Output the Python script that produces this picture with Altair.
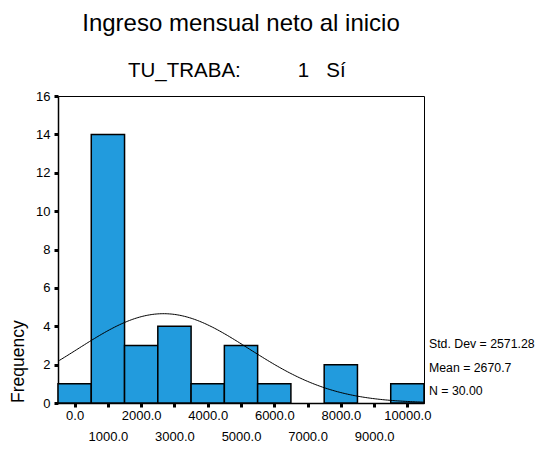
import altair as alt
import pandas as pd

# ---- data ----
bin_centers = [0, 1000, 2000, 3000, 4000, 5000, 6000, 7000, 8000, 9000, 10000]
counts = [1, 14, 3, 4, 1, 3, 1, 0, 2, 0, 1]
bin_width = 1000
mean_value = 2670.7
std_dev = 2571.28
n_total = 30
y_ticks = [0, 2, 4, 6, 8, 10, 12, 14, 16]
stats_labels = ["Std. Dev = 2571.28", "Mean = 2670.7", "N = 30.00"]
title_text = "Ingreso mensual neto al inicio"
NB = "\u00a0"
subtitle_text = "TU_TRABA:" + NB * 10 + "1" + NB * 3 + "Sí"
y_title = "Frequency"

FONT = "Liberation Sans"
BAR_COLOR = "#229BDD"

bars_df = pd.DataFrame({"center": bin_centers, "count": counts})
bars_df["start"] = bars_df["center"] - bin_width / 2
bars_df["end"] = bars_df["center"] + bin_width / 2

x_scale = alt.Scale(domain=[bin_centers[0] - bin_width / 2, bin_centers[-1] + bin_width / 2],
                    nice=False, zero=False)
y_scale = alt.Scale(domain=[0, 16], nice=False)

x_axis = alt.Axis(
    values=bin_centers,
    labelExpr="(datum.value % 2000 == 0) ? format(datum.value, '.1f') : ['', format(datum.value, '.1f')]",
    labelFont=FONT, labelFontSize=13, labelColor="black",
    labelLineHeight=20.5, labelPadding=2.5, labelOverlap=False, labelFlush=False,
    tickSize=4, tickWidth=3, tickColor="black",
    domainColor="black", domainWidth=1.5, grid=False, title=None,
)
y_axis = alt.Axis(
    values=y_ticks, labelFont=FONT, labelFontSize=13, labelColor="black",
    labelPadding=4, tickSize=4, tickWidth=3, tickColor="black",
    domainColor="black", domainWidth=1.5, grid=False, title=None,
)

bars = alt.Chart(bars_df).transform_filter("datum.count > 0").mark_bar(
    color=BAR_COLOR, stroke="black", strokeWidth=1.5
).encode(
    x=alt.X("start:Q", scale=x_scale, axis=x_axis),
    x2="end:Q",
    y=alt.Y("count:Q", scale=y_scale, axis=y_axis),
    y2=alt.datum(0),
)

curve_expr = (
    f"{n_total}*{bin_width}/({std_dev}*sqrt(2*PI))"
    f"*exp(-pow(datum.x-{mean_value},2)/(2*{std_dev}*{std_dev}))"
)
curve = alt.Chart(alt.sequence(-500, 10501, 50, as_="x")).transform_calculate(
    y=curve_expr
).mark_line(color="black", strokeWidth=1).encode(
    x=alt.X("x:Q", scale=x_scale, axis=x_axis),
    y=alt.Y("y:Q", scale=y_scale, axis=y_axis),
)

one = pd.DataFrame({"k": [0]})

stats = alt.Chart(one).mark_text(
    align="left", baseline="alphabetic", font=FONT, fontSize=12.3, lineHeight=23.5, color="black"
).encode(x=alt.value(371), y=alt.value(252), text=alt.value(stats_labels))

title = alt.Chart(one).mark_text(
    align="center", baseline="alphabetic", font=FONT, fontSize=24, color="black"
).encode(x=alt.value(183), y=alt.value(-65), text=alt.value(title_text))

subtitle = alt.Chart(one).mark_text(
    align="left", baseline="alphabetic", font=FONT, fontSize=20.5, color="black"
).encode(x=alt.value(70), y=alt.value(-19), text=alt.value(subtitle_text))

ylab = alt.Chart(one).mark_text(
    align="left", baseline="middle", angle=270, font=FONT, fontSize=17.5, color="black"
).encode(x=alt.value(-39), y=alt.value(307), text=alt.value(y_title))

chart = alt.layer(bars, curve, stats, title, subtitle, ylab).properties(
    width=366, height=307,
    autosize=alt.AutoSizeParams(type="none"),
    padding={"left": 50, "top": 88, "right": 111, "bottom": 39},
).configure_view(stroke="black", strokeWidth=1)

chart.save("out.html", embed_options={"renderer": "svg", "actions": False})
